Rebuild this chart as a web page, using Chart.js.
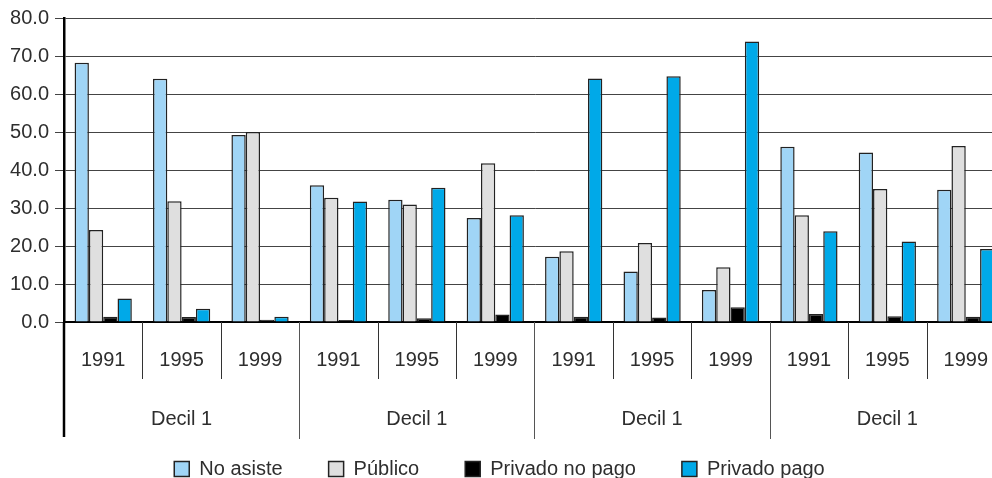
<!doctype html>
<html lang="es">
<head>
  <meta charset="utf-8">
  <title>Asistencia por decil</title>
  <script src="https://cdn.jsdelivr.net/npm/chart.js@4.4.1/dist/chart.umd.min.js"></script>
  <style>
    html, body { margin: 0; padding: 0; overflow: hidden; background: #fff; }
    #wrap { position: relative; width: 1014px; height: 478px; }
  </style>
</head>
<body>
<div id="wrap"><canvas id="myChart"></canvas></div>
<script>
  // categories: three years inside each decile block
  var years = ["1991", "1995", "1999", "1991", "1995", "1999", "1991", "1995", "1999", "1991", "1995", "1999"];
  var deciles = ["Decil 1", "Decil 1", "Decil 1", "Decil 1"];

  // series values
  var noAsiste      = [68.2, 64.0, 49.2, 36.0, 32.2, 27.4, 17.2, 13.3, 8.4, 46.1, 44.6, 34.8];
  var publico       = [24.2, 31.8, 50.0, 32.7, 30.9, 41.8, 18.6, 20.8, 14.4, 28.1, 35.0, 46.3];
  var privadoNoPago = [1.4, 1.3, 0.6, 0.5, 1.0, 2.0, 1.4, 1.2, 3.9, 2.1, 1.5, 1.4];
  var privadoPago   = [6.2, 3.5, 1.4, 31.7, 35.3, 28.1, 64.1, 64.7, 73.8, 23.9, 21.2, 19.2];

  var yTicks = [0, 10, 20, 30, 40, 50, 60, 70, 80];

  var font = { family: "'Liberation Sans', Arial, sans-serif", size: 20 };
  var ink = "#2e2e2e";

  // separators between years and deciles, from the x scale's own positions
  var separators = {
    id: "separators",
    afterDraw: function(chart) {
      var x = chart.scales.x, ctx = chart.ctx, bottom = chart.chartArea.bottom;
      var step = x.getPixelForValue(1) - x.getPixelForValue(0);
      ctx.save();
      for (var i = 0; i < years.length; i++) {
        var px = Math.round(x.getPixelForValue(i) - step / 2) + 0.5;
        ctx.beginPath();
        if (i === 0) {
          ctx.lineWidth = 2.5; ctx.strokeStyle = "#000";
          ctx.moveTo(px - 0.5, bottom); ctx.lineTo(px - 0.5, bottom + 115);
        } else if (i % 3 === 0) {
          ctx.lineWidth = 1; ctx.strokeStyle = "#555";
          ctx.moveTo(px, bottom); ctx.lineTo(px, bottom + 117);
        } else {
          ctx.lineWidth = 1; ctx.strokeStyle = "#333";
          ctx.moveTo(px, bottom); ctx.lineTo(px, bottom + 57);
        }
        ctx.stroke();
      }
      ctx.restore();
    }
  };

  var ctx = document.getElementById("myChart");
  var myChart = new Chart(ctx, {
    type: "bar",
    data: {
      labels: years,
      datasets: [
        { label: "No asiste", data: noAsiste, backgroundColor: "#a0d5f6" },
        { label: "Público", data: publico, backgroundColor: "#dfdfdf" },
        { label: "Privado no pago", data: privadoNoPago, backgroundColor: "#000000" },
        { label: "Privado pago", data: privadoPago, backgroundColor: "#00a9e8" }
      ]
    },
    options: {
      responsive: true,
      maintainAspectRatio: false,
      animation: false,
      events: [],
      datasets: {
        bar: { categoryPercentage: 0.73, barPercentage: 1.0, borderColor: "#222", borderWidth: 1.5 }
      },
      layout: { padding: { top: 15, left: -15, right: 0, bottom: -11 } },
      scales: {
        x: {
          offset: true,
          grid: { display: false, drawTicks: false },
          border: { color: "#000", width: 2 },
          ticks: { color: ink, font: font, padding: 26, maxRotation: 0, autoSkip: false },
          afterFit: function(s) { s.height = 67; }
        },
        x2: {
          type: "category",
          labels: deciles,
          offset: true,
          position: "bottom",
          grid: { display: false, drawTicks: false },
          border: { display: false },
          // mirrored so the labels are not clipped to this short box
          ticks: { color: ink, font: font, mirror: true, padding: -42, maxRotation: 0 },
          afterFit: function(s) { s.height = 24; }
        },
        y: {
          min: 0,
          max: 80,
          afterBuildTicks: function(s) { s.ticks = yTicks.map(function(v) { return { value: v }; }); },
          grid: { color: "#444", lineWidth: 1, tickLength: 9 },
          border: { color: "#000", width: 2.5 },
          ticks: {
            color: ink, font: font, padding: 6,
            callback: function(v) { return v.toFixed(1); }
          },
          afterFit: function(s) { s.width = 79; }
        }
      },
      plugins: {
        tooltip: { enabled: false },
        legend: {
          position: "bottom",
          labels: {
            color: ink, font: font, boxWidth: 15, boxHeight: 15, padding: 46
          }
        }
      }
    },
    plugins: [separators]
  });
</script>
</body>
</html>
